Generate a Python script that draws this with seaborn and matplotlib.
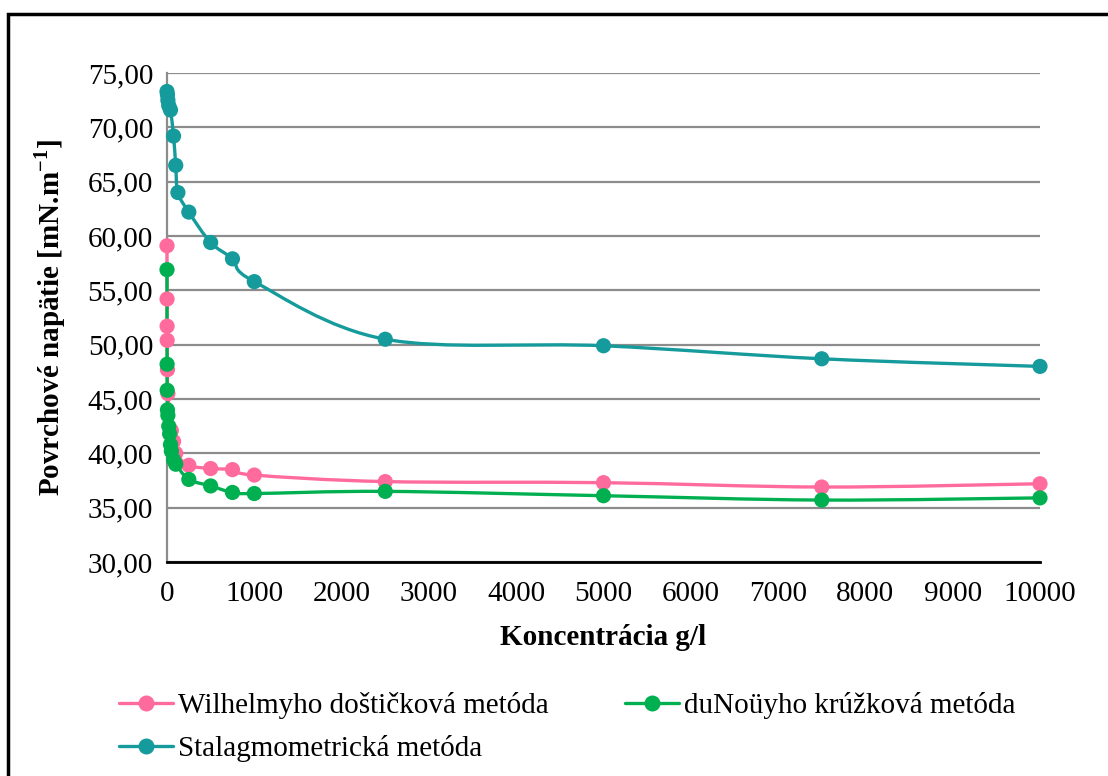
import numpy as np
import pandas as pd
import matplotlib
matplotlib.use("Agg")
import matplotlib.pyplot as plt
from matplotlib.path import Path
from matplotlib.patches import PathPatch
from matplotlib.lines import Line2D
import seaborn as sns

# ---- data ----
wil_x = [0, 0.5, 1, 2, 5, 10, 50, 75, 100, 250, 500, 750, 1000, 2500, 5000, 7500, 10000]
wil_y = [59.1, 54.2, 51.7, 50.4, 47.7, 45.5, 42.1, 41.1, 40.0, 38.9, 38.6, 38.5, 38.0, 37.4, 37.3, 36.9, 37.2]

dun_x = [0, 1, 2, 5, 10, 20, 30, 40, 50, 75, 100, 250, 500, 750, 1000, 2500, 5000, 7500, 10000]
dun_y = [56.9, 48.2, 45.8, 44.0, 43.5, 42.5, 41.8, 40.8, 40.2, 39.4, 39.0, 37.6, 37.0, 36.4, 36.3, 36.5, 36.1, 35.7, 35.9]

sta_x = [0, 5, 10, 20, 40, 75, 100, 125, 250, 500, 750, 1000, 2500, 5000, 7500, 10000]
sta_y = [73.3, 73.0, 72.5, 72.0, 71.6, 69.2, 66.5, 64.0, 62.2, 59.4, 57.9, 55.8, 50.5, 49.9, 48.7, 48.0]

names = ["Wilhelmyho doštičková metóda", "duNoüyho krúžková metóda", "Stalagmometrická metóda"]
colors = ["#FF6B9D", "#00B050", "#169B9C"]
xticks = list(range(0, 10001, 1000))
yticks = [30, 35, 40, 45, 50, 55, 60, 65, 70, 75]

series = [(wil_x, wil_y), (dun_x, dun_y), (sta_x, sta_y)]

sns.set_theme(style="white")
plt.rcParams["font.family"] = ["Liberation Serif", "DejaVu Serif"]
plt.rcParams["text.color"] = "black"
plt.rcParams["axes.labelcolor"] = "black"
plt.rcParams["xtick.color"] = "black"
plt.rcParams["ytick.color"] = "black"

fig = plt.figure(figsize=(11.08, 7.76), dpi=100)
ax = fig.add_axes([167/1108, 1-562/776, (1040-167)/1108, (562-73)/776])

ax.set_xlim(0, 10000)
ax.set_ylim(30, 75)


def smooth_path(x, y):
    pts = np.column_stack([x, y]).astype(float)
    verts = [tuple(pts[0])]
    codes = [Path.MOVETO]
    n = len(pts)
    for i in range(n - 1):
        p0 = pts[i - 1] if i > 0 else pts[i]
        p1 = pts[i]
        p2 = pts[i + 1]
        p3 = pts[i + 2] if i + 2 < n else pts[i + 1]
        c1 = p1 + (p2 - p0) / 6.0
        c2 = p2 - (p3 - p1) / 6.0
        verts += [tuple(c1), tuple(c2), tuple(p2)]
        codes += [Path.CURVE4] * 3
    return Path(verts, codes)


for (x, y), c, nm in zip(series, colors, names):
    ax.add_patch(PathPatch(smooth_path(x, y), facecolor="none", edgecolor=c,
                           lw=2.4, zorder=3, clip_on=False))
    df = pd.DataFrame({"x": x, "y": y})
    sns.scatterplot(data=df, x="x", y="y", ax=ax, color=c, s=120,
                    edgecolor="none", zorder=4, clip_on=False, legend=False)

ax.set_xticks(xticks)
ax.set_xticklabels([str(t) for t in xticks], fontsize=21)
ax.set_yticks(yticks)
ax.set_yticklabels([f"{t:.2f}".replace(".", ",") for t in yticks], fontsize=21)
ax.tick_params(axis="both", length=0, pad=10)
ax.tick_params(axis="x", pad=14)

ax.grid(axis="y", color="#8C8C8C", lw=1.6)
ax.set_axisbelow(True)
for s in ["top", "right"]:
    ax.spines[s].set_visible(False)
ax.spines["left"].set_color("#8C8C8C")
ax.spines["left"].set_linewidth(1.6)
ax.spines["bottom"].set_color("black")
ax.spines["bottom"].set_linewidth(2)

ax.set_xlabel("Koncentrácia g/l", fontsize=21, fontweight="bold", labelpad=12)
ax.set_ylabel("Povrchové napätie [mN.m$^{\\mathregular{-1}}$]", fontsize=21,
              fontweight="bold", labelpad=14)

handles = [Line2D([0], [0], color=c, lw=2.4, marker="o", markersize=10.5,
                  markeredgecolor=c) for c in colors]
order = [0, 2, 1]
fig.legend([handles[i] for i in order], [names[i] for i in order],
           loc="upper left", bbox_to_anchor=(93/1108, 1-666/776),
           ncol=2, frameon=False, fontsize=21, handlelength=1.85,
           handletextpad=0.17, columnspacing=2.6, labelspacing=0.55)

# outer chart border (right and bottom edges lie outside the picture)
fig.add_artist(plt.Rectangle((8/1108, -0.02), 1.1, (1-14/776) + 0.02,
                             transform=fig.transFigure, fill=False,
                             edgecolor="black", lw=2.5, clip_on=False))

fig.savefig("out.png", dpi=100)
